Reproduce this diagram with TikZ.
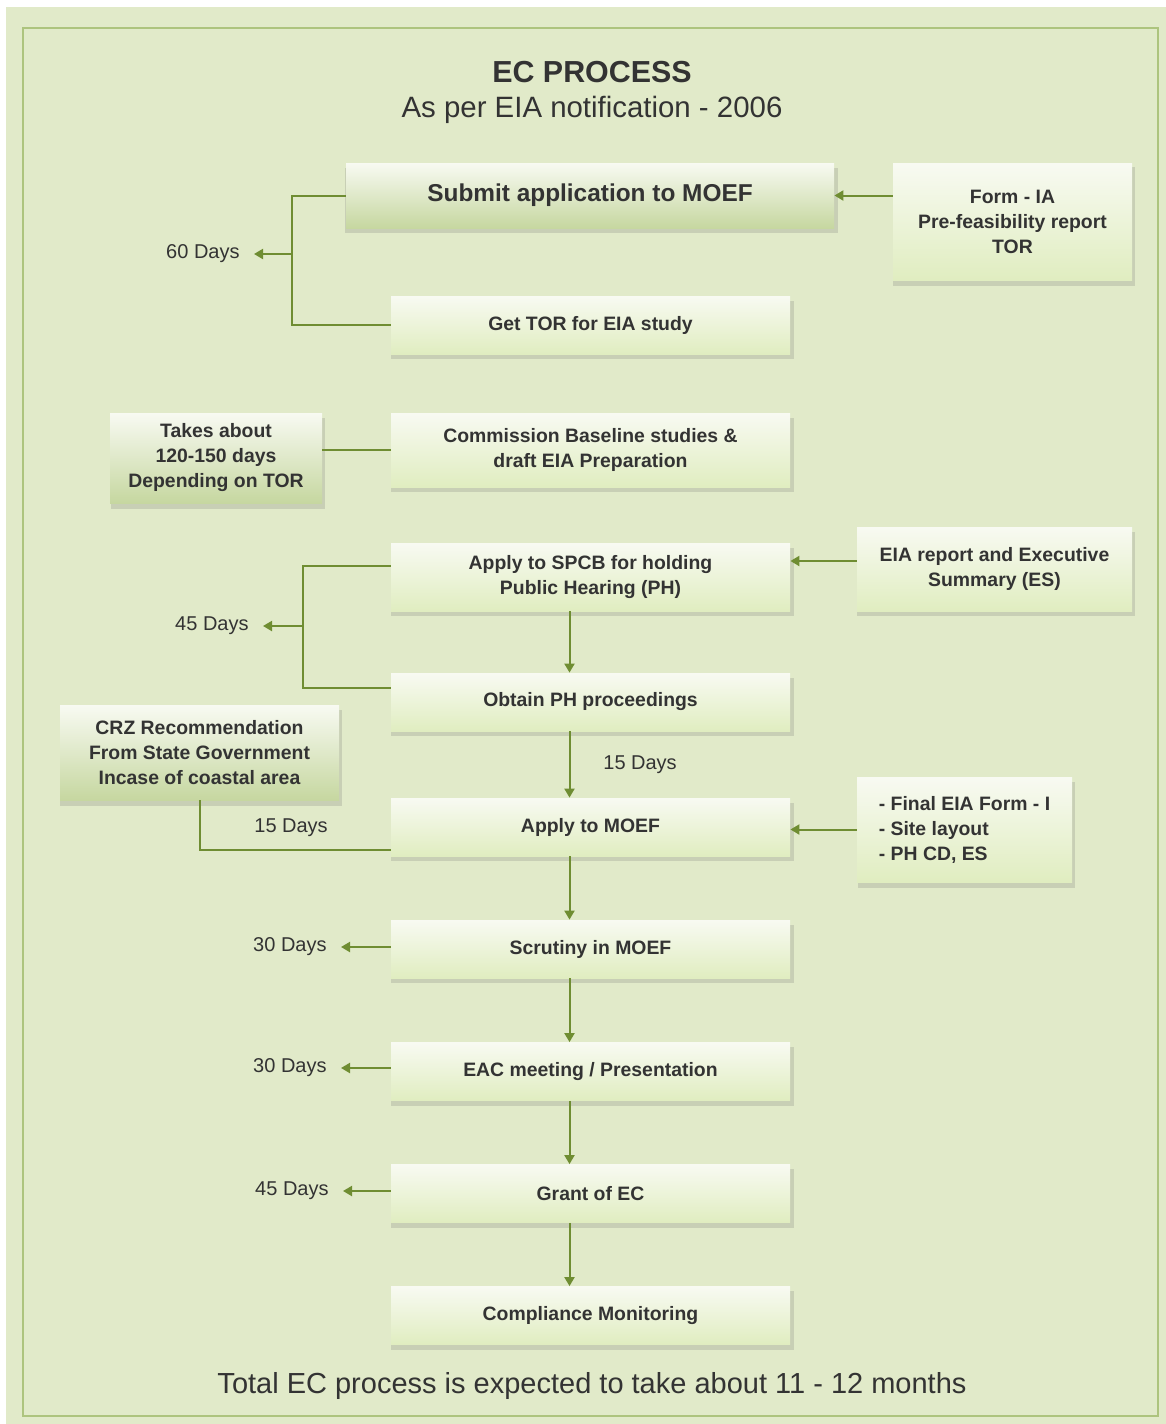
\documentclass[tikz,border=0pt]{standalone}
\usepackage{fontspec}
\setmainfont{Liberation Sans}
\usetikzlibrary{arrows.meta,shadows}

\definecolor{pagegreen}{HTML}{E1EAC9}
\definecolor{framegreen}{HTML}{ADC47E}
\definecolor{linkgreen}{HTML}{6F8D32}
\definecolor{boxtop}{HTML}{F8FAF2}
\definecolor{boxbottom}{HTML}{E0EDC0}
\definecolor{boxdark}{HTML}{C6D7A0}
\definecolor{inkgray}{HTML}{333333}

\tikzset{
  box/.style={inner sep=2pt, align=center, text=inkgray,
    font=\bfseries\fontsize{9.7}{12.5}\selectfont,
    top color=boxtop, bottom color=boxbottom,
    drop shadow={shadow xshift=0.8pt, shadow yshift=-2.5pt, shadow scale=1.01, opacity=0.2, fill=black!60}},
  darkbox/.style={box, bottom color=boxdark},
  mainbox/.style={box, minimum width=199.5pt, minimum height=29pt},
  days/.style={text=inkgray, font=\fontsize{10}{12}\selectfont, inner sep=0pt},
  link/.style={draw=linkgreen, line width=1pt},
  arrow/.style={link, -{Triangle[length=4.5pt,width=5pt]}},
  daysarrow/.style={arrow, shorten >=7pt}
}

\begin{document}
\begin{tikzpicture}[x=0.5pt,y=-0.5pt]

\useasboundingbox (0,0) rectangle (1166,1424);
\fill[pagegreen] (6,7) rectangle (1166,1424);
\draw[framegreen, line width=1pt] (23,28) rectangle (1158,1416);

\node (title) at (592,72) [text=inkgray, font=\bfseries\fontsize{15.2}{18}\selectfont] {EC PROCESS};
\node (subtitle) at (592,110) [text=inkgray, font=\fontsize{14.7}{18}\selectfont] {As per EIA notification - 2006};

\node (submit) at (590,195.5) [darkbox, minimum width=244pt, minimum height=32.5pt, font=\bfseries\fontsize{12.2}{14}\selectfont] {Submit application to MOEF};
\node (form) at (1012.5,221.5) [box, minimum width=119.5pt, minimum height=58.5pt] {Form - IA\\Pre-feasibility report\\TOR};
\node (gettor) at (590.5,325) [mainbox] {Get TOR for EIA study};

\node (takes) at (216,458) [darkbox, minimum width=106pt, minimum height=45pt] {Takes about\\120-150 days\\Depending on TOR};
\node (comm) at (590.5,450) [mainbox, minimum height=37pt] {Commission Baseline studies \&\\draft EIA Preparation};

\node (spcb) at (590.5,577) [mainbox, minimum height=34pt] {Apply to SPCB for holding\\Public Hearing (PH)};
\node (eia) at (994.5,569) [box, minimum width=137.5pt, minimum height=42pt] {EIA report and Executive\\Summary (ES)};
\node (obtain) at (590.5,702) [mainbox] {Obtain PH proceedings};

\node (crz) at (199.5,752.5) [darkbox, minimum width=139.5pt, minimum height=47.5pt] {CRZ Recommendation\\From State Government\\Incase of coastal area};
\node (moef) at (590.5,827) [mainbox] {Apply to MOEF};
\node (final) at (964.5,829.5) [box, align=left, minimum width=107.5pt, minimum height=52.5pt] {- Final EIA Form - I\\- Site layout\\- PH CD, ES};

\node (scrutiny) at (590.5,949) [mainbox] {Scrutiny in MOEF};
\node (eac) at (590.5,1071.5) [mainbox] {EAC meeting / Presentation};
\node (grant) at (590.5,1193.5) [mainbox] {Grant of EC};
\node (compliance) at (590.5,1315.5) [mainbox] {Compliance Monitoring};

\node (d60) at (240,254) [days, anchor=east] {60 Days};
\node (d45a) at (249,626) [days, anchor=east] {45 Days};
\node (d15a) at (603,765) [days, anchor=west] {15 Days};
\node (d15b) at (254,828) [days, anchor=west] {15 Days};
\node (d30a) at (327,947) [days, anchor=east] {30 Days};
\node (d30b) at (327,1068) [days, anchor=east] {30 Days};
\node (d45b) at (329,1191) [days, anchor=east] {45 Days};

\node (total) at (592,1386) [text=inkgray, font=\fontsize{14.5}{18}\selectfont] {Total EC process is expected to take about 11 - 12 months};

\coordinate (b60) at (292,254);
\draw[link] (submit.west) -| (b60) |- (gettor.west);
\draw[daysarrow] (b60) -- (d60);
\draw[arrow] (form.west |- submit.east) -- (submit.east);

\draw[link] (takes.east |- comm.west) -- (comm.west);

\coordinate (eiain) at ([yshift=4pt]eia.west);
\draw[arrow] (eiain) -- (eiain -| spcb.east);
\coordinate (b45) at (303,626);
\draw[link] ([yshift=5.5pt]spcb.west) -| (b45) |- ([yshift=7pt]obtain.west);
\draw[daysarrow] (b45) -- (d45a);
\draw[arrow] ([xshift=-10.5pt]spcb.south) -- ([xshift=-10.5pt]obtain.north);

\draw[arrow] ([xshift=-10.5pt]obtain.south) -- ([xshift=-10.5pt]moef.north);
\draw[link] (crz.south) |- ([yshift=3pt]moef.south west);
\draw[arrow] (final.west) -- (final.west -| moef.east);

\draw[arrow] ([xshift=-10.5pt]moef.south) -- ([xshift=-10.5pt]scrutiny.north);
\draw[daysarrow] (d30a -| scrutiny.west) -- (d30a);
\draw[arrow] ([xshift=-10.5pt]scrutiny.south) -- ([xshift=-10.5pt]eac.north);
\draw[daysarrow] (d30b -| eac.west) -- (d30b);
\draw[arrow] ([xshift=-10.5pt]eac.south) -- ([xshift=-10.5pt]grant.north);
\draw[daysarrow] (d45b -| grant.west) -- (d45b);
\draw[arrow] ([xshift=-10.5pt]grant.south) -- ([xshift=-10.5pt]compliance.north);

\end{tikzpicture}
\end{document}
